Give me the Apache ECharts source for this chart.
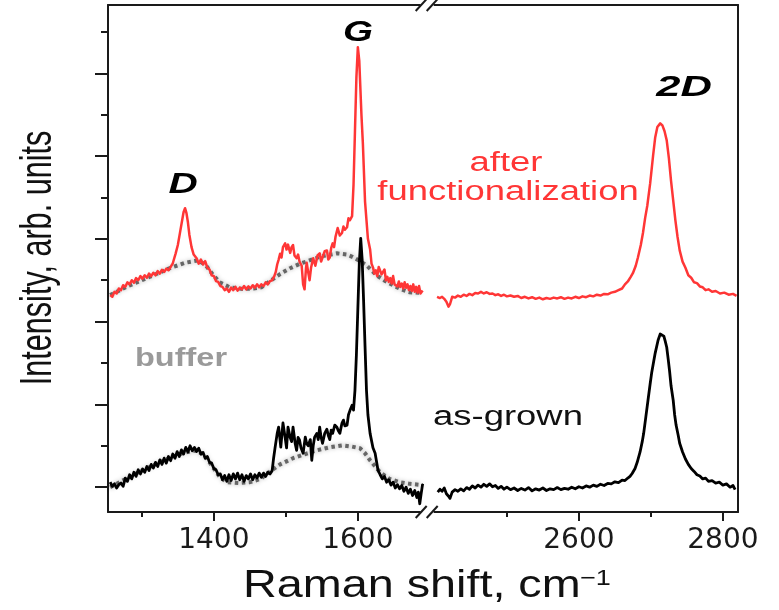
<!DOCTYPE html>
<html>
<head>
<meta charset="utf-8">
<script src="https://cdn.jsdelivr.net/npm/echarts@6/dist/echarts.min.js"></script>
<style>
html,body{margin:0;padding:0;background:#fff;}
#c{width:779px;height:610px;}
</style>
</head>
<body>
<div id="c"></div>
<script>
// ---- data (Raman shift in cm^-1, intensity in arb. units) ----
const redLeft = [[1256,4.64],[1259,4.6],[1262,4.72],[1265,4.68],[1268,4.8],[1271,4.76],[1274,4.88],[1277,4.84],[1280,4.95],[1283,4.9],[1286,5.0],[1289,4.94],[1292,5.05],[1295,5.0],[1298,5.1],[1301,5.04],[1304,5.12],[1307,5.06],[1310,5.16],[1313,5.1],[1316,5.18],[1319,5.12],[1322,5.22],[1325,5.16],[1328,5.25],[1331,5.2],[1334,5.28],[1337,5.24],[1340,5.32],[1343,5.41],[1347,5.65],[1350,5.85],[1353,6.15],[1356,6.45],[1358,6.65],[1360,6.74],[1362,6.62],[1364,6.4],[1366,6.1],[1369,5.8],[1372,5.62],[1376,5.53],[1379,5.4],[1382,5.5],[1385,5.38],[1388,5.46],[1391,5.3],[1394,5.26],[1397,5.12],[1400,5.1],[1403,4.98],[1406,4.96],[1409,4.86],[1412,4.84],[1415,4.76],[1418,4.8],[1421,4.72],[1424,4.82],[1427,4.76],[1430,4.84],[1433,4.75],[1436,4.82],[1439,4.78],[1442,4.86],[1445,4.78],[1448,4.85],[1451,4.8],[1454,4.88],[1457,4.82],[1460,4.9],[1463,4.83],[1466,4.9],[1469,4.86],[1472,4.95],[1475,4.9],[1478,4.98],[1481,5.0],[1484,5.1],[1486,5.2],[1488,5.38],[1490,5.5],[1492,5.64],[1494,5.55],[1496,5.8],[1499,5.89],[1501,5.74],[1503,5.86],[1506,5.66],[1508,5.8],[1510,5.85],[1512,5.6],[1515,5.53],[1517,5.62],[1519,5.45],[1522,5.35],[1524,4.9],[1526,4.78],[1528,5.3],[1529,5.42],[1531,5.2],[1533,5.0],[1535,5.3],[1538,5.53],[1541,5.35],[1544,5.6],[1547,5.65],[1549,5.45],[1551,5.48],[1554,5.7],[1557,5.72],[1559,5.5],[1561,5.55],[1563,5.78],[1565,5.89],[1567,5.8],[1569,6.05],[1572,6.26],[1575,6.08],[1578,6.14],[1580,6.3],[1582,6.22],[1585,6.28],[1587,6.5],[1589,6.45],[1592,6.55],[1594,7.3],[1596,8.6],[1598,9.9],[1600,10.63],[1602,10.3],[1605,9.0],[1607,8.3],[1610,6.9],[1614,6.0],[1617,5.75],[1619,5.4],[1621,5.31],[1623,5.16],[1625,5.24],[1627,5.1],[1629,5.32],[1631,5.36],[1633,5.14],[1635,5.1],[1637,5.26],[1639,5.0],[1641,5.08],[1643,4.96],[1645,5.05],[1647,4.92],[1649,5.1],[1651,4.9],[1653,4.94],[1655,4.85],[1657,4.97],[1659,4.84],[1661,4.92],[1663,4.8],[1665,4.95],[1667,4.82],[1669,4.9],[1671,4.76],[1673,4.86],[1675,4.74],[1677,4.9],[1679,4.72],[1681,4.84],[1683,4.7],[1685,4.86],[1687,4.68],[1690,4.75]];
const redRight = [[2403,4.6],[2407,4.57],[2410,4.6],[2413,4.55],[2416,4.48],[2419,4.36],[2421,4.42],[2424,4.6],[2428,4.58],[2432,4.63],[2436,4.6],[2440,4.65],[2444,4.62],[2448,4.67],[2452,4.64],[2456,4.69],[2460,4.68],[2464,4.72],[2468,4.68],[2472,4.71],[2476,4.67],[2480,4.68],[2484,4.64],[2488,4.66],[2492,4.62],[2496,4.65],[2500,4.61],[2505,4.63],[2510,4.6],[2515,4.62],[2520,4.57],[2525,4.6],[2530,4.56],[2535,4.59],[2540,4.55],[2545,4.58],[2550,4.54],[2555,4.57],[2560,4.55],[2565,4.58],[2570,4.56],[2575,4.59],[2580,4.55],[2585,4.58],[2590,4.56],[2595,4.6],[2600,4.57],[2605,4.61],[2610,4.59],[2615,4.63],[2620,4.61],[2625,4.65],[2630,4.63],[2635,4.67],[2640,4.66],[2645,4.7],[2650,4.72],[2655,4.76],[2660,4.8],[2664,4.9],[2668,4.97],[2672,5.08],[2675,5.17],[2679,5.35],[2682,5.55],[2686,5.85],[2689,6.14],[2692,6.5],[2695,6.8],[2699,7.34],[2703,8.0],[2706,8.45],[2709,8.7],[2713,8.79],[2716,8.74],[2719,8.6],[2722,8.38],[2725,7.95],[2728,7.4],[2731,6.93],[2734,6.45],[2737,6.05],[2740,5.72],[2744,5.45],[2748,5.3],[2752,5.12],[2756,5.06],[2760,4.95],[2764,4.93],[2768,4.85],[2772,4.83],[2776,4.76],[2780,4.78],[2785,4.72],[2790,4.74],[2796,4.68],[2802,4.7],[2808,4.65],[2814,4.67],[2819,4.62]];
const blackLeft = [[1256,0.12],[1259,0.02],[1262,0.08],[1265,-0.02],[1268,0.06],[1271,0.1],[1274,0.02],[1277,0.22],[1280,0.14],[1283,0.3],[1286,0.2],[1289,0.36],[1292,0.26],[1295,0.42],[1298,0.32],[1301,0.44],[1304,0.36],[1307,0.5],[1310,0.4],[1313,0.55],[1316,0.46],[1319,0.6],[1322,0.5],[1325,0.66],[1328,0.55],[1331,0.7],[1334,0.58],[1337,0.74],[1340,0.64],[1343,0.8],[1346,0.7],[1349,0.86],[1352,0.74],[1355,0.9],[1358,0.8],[1361,0.96],[1364,0.85],[1367,1.0],[1370,0.88],[1373,0.96],[1376,0.86],[1379,0.94],[1382,0.8],[1385,0.84],[1388,0.7],[1391,0.74],[1394,0.6],[1397,0.58],[1400,0.45],[1403,0.42],[1406,0.3],[1409,0.32],[1412,0.18],[1415,0.28],[1418,0.14],[1421,0.3],[1424,0.16],[1427,0.32],[1430,0.2],[1433,0.34],[1436,0.18],[1439,0.3],[1442,0.14],[1445,0.28],[1448,0.2],[1451,0.32],[1454,0.18],[1457,0.3],[1460,0.22],[1463,0.34],[1466,0.24],[1469,0.34],[1472,0.26],[1475,0.36],[1478,0.32],[1481,0.4],[1483,0.7],[1485,0.95],[1488,1.3],[1490,1.45],[1493,0.97],[1496,1.55],[1499,1.2],[1501,0.95],[1503,1.45],[1506,1.2],[1508,1.1],[1510,1.45],[1513,1.05],[1515,0.89],[1517,1.2],[1519,1.14],[1521,0.95],[1524,0.82],[1527,1.21],[1529,1.05],[1531,1.0],[1534,1.15],[1536,0.65],[1538,1.0],[1540,1.21],[1543,1.3],[1545,1.15],[1547,1.45],[1549,1.2],[1551,1.06],[1554,1.3],[1557,1.4],[1559,1.25],[1561,1.15],[1563,1.38],[1565,1.3],[1568,1.5],[1571,1.45],[1573,1.36],[1575,1.3],[1578,1.55],[1580,1.62],[1582,1.48],[1585,1.5],[1587,1.75],[1589,1.85],[1592,1.98],[1594,1.86],[1596,2.34],[1598,3.2],[1600,4.3],[1602,5.4],[1604,6.01],[1606,5.5],[1608,4.5],[1610,3.4],[1612,2.34],[1614,1.75],[1617,1.3],[1621,0.95],[1624,0.82],[1628,0.41],[1631,0.3],[1634,0.2],[1637,0.26],[1640,0.12],[1643,0.18],[1646,0.05],[1649,0.12],[1652,-0.02],[1655,0.06],[1658,-0.04],[1661,0.04],[1664,-0.1],[1667,0.0],[1670,-0.15],[1673,-0.05],[1676,-0.2],[1679,-0.08],[1682,-0.25],[1684,-0.12],[1686,-0.4],[1688,-0.15],[1690,0.08]];
const blackRight = [[2404,-0.12],[2407,-0.05],[2410,-0.1],[2413,-0.02],[2416,-0.16],[2419,-0.22],[2421,-0.27],[2424,-0.12],[2428,-0.06],[2432,-0.1],[2436,-0.04],[2440,-0.09],[2444,-0.01],[2448,-0.05],[2452,0.03],[2456,-0.02],[2460,0.05],[2464,0.0],[2468,0.07],[2472,0.02],[2476,0.08],[2480,0.01],[2484,0.04],[2488,-0.03],[2492,0.02],[2496,-0.05],[2500,0.0],[2505,-0.06],[2510,-0.02],[2515,-0.08],[2520,-0.03],[2525,-0.07],[2530,-0.01],[2535,-0.09],[2540,-0.04],[2545,-0.07],[2550,-0.02],[2555,-0.08],[2560,-0.04],[2565,-0.06],[2570,-0.01],[2575,-0.06],[2580,-0.03],[2585,-0.05],[2590,0.0],[2595,-0.04],[2600,0.01],[2605,-0.02],[2610,0.03],[2615,0.0],[2620,0.05],[2625,0.02],[2630,0.07],[2635,0.04],[2640,0.09],[2645,0.08],[2650,0.13],[2655,0.11],[2660,0.17],[2664,0.16],[2668,0.22],[2671,0.26],[2674,0.33],[2678,0.45],[2681,0.6],[2685,0.85],[2688,1.1],[2690,1.3],[2693,1.7],[2696,2.1],[2699,2.5],[2701,2.75],[2704,3.05],[2706,3.24],[2710,3.55],[2713,3.7],[2715,3.74],[2718,3.65],[2720,3.52],[2722,3.38],[2724,3.1],[2726,2.8],[2728,2.45],[2731,2.1],[2733,1.75],[2735,1.5],[2738,1.25],[2740,1.06],[2744,0.85],[2748,0.68],[2752,0.55],[2756,0.45],[2760,0.38],[2764,0.3],[2768,0.27],[2772,0.2],[2776,0.22],[2780,0.14],[2785,0.16],[2790,0.1],[2795,0.12],[2800,0.05],[2805,0.08],[2810,0.0],[2814,0.04],[2817,-0.06]];
const bufferUpper = [[1256,4.64],[1280,4.85],[1300,5.0],[1320,5.15],[1340,5.3],[1360,5.42],[1378,5.48],[1388,5.38],[1398,5.15],[1408,4.95],[1422,4.83],[1440,4.79],[1455,4.8],[1466,4.83],[1478,4.98],[1492,5.15],[1506,5.29],[1520,5.4],[1533,5.48],[1550,5.58],[1571,5.65],[1585,5.62],[1593,5.56],[1603,5.46],[1612,5.36],[1626,5.12],[1638,4.98],[1649,4.88],[1660,4.78],[1672,4.71],[1690,4.69]];
const bufferLower = [[1256,0.0],[1280,0.22],[1300,0.4],[1320,0.56],[1340,0.72],[1360,0.84],[1376,0.89],[1388,0.75],[1398,0.5],[1408,0.25],[1418,0.12],[1435,0.1],[1450,0.12],[1465,0.2],[1478,0.38],[1492,0.55],[1510,0.7],[1527,0.8],[1543,0.89],[1560,0.96],[1579,1.01],[1592,0.98],[1603,0.94],[1610,0.82],[1617,0.65],[1624,0.5],[1631,0.36],[1644,0.2],[1658,0.12],[1672,0.08],[1690,0.05]];

const xTickLabels = [1400, 1600, 2600, 2800];
const xMinorTicks = [1300, 1500, 2500, 2700];
const yMajorTicks = [0, 2, 4, 6, 8, 10];
const yMinorTicks = [1, 3, 5, 7, 9, 11];

// ---- broken x axis: the high-wavenumber segment is shifted left ----
const X_LEFT_MIN = 1253;
const X_RIGHT_MAX = 2821;
const BREAK_LEFT_END = 1697;   // last value of left segment
const BREAK_RIGHT_START = 2390; // first value of right segment
const SHIFT = BREAK_RIGHT_START - BREAK_LEFT_END;
const toAxis = v => (v >= BREAK_RIGHT_START - 50 ? v - SHIFT : v);
const fromAxis = u => (u > BREAK_LEFT_END ? u + SHIFT : u);
const mapSeries = arr => arr.map(p => [toAxis(p[0]), p[1]]);

const Y_MIN = -0.6, Y_MAX = 11.65;

const AX = '#1a1a1a';
const RED = '#ff3636';
const FONT = '"Liberation Sans", Arial, Helvetica, sans-serif';

const chart = echarts.init(document.getElementById('c'), null, {renderer: 'canvas'});

function lineSeries(name, data, color, width, extra) {
  return Object.assign({
    name, type: 'line', data: mapSeries(data), showSymbol: false, symbol: 'none',
    smooth: false, animation: false, silent: true,
    lineStyle: {color, width, join: 'round'}
  }, extra || {});
}
const bufferStyle = {color: '#666', width: 4, type: [3.5, 3.5], shadowBlur: 4, shadowColor: 'rgba(0,0,0,0.35)'};

const textEl = (id, text, x, y, font, fill, opts) => Object.assign({
  type: 'text', id, x, y, z: 100, silent: true,
  style: {text, font, fill, align: 'center', verticalAlign: 'middle', textAlign: 'center', textVerticalAlign: 'middle'}
}, opts || {});

const option = {
  animation: false,
  backgroundColor: '#fff',
  grid: {left: 108, right: 41, top: 5, bottom: 98, containLabel: false},
  xAxis: [
    {
      type: 'value', position: 'bottom', min: toAxis(X_LEFT_MIN), max: toAxis(X_RIGHT_MAX),
      axisLine: {show: true, onZero: false, lineStyle: {color: AX, width: 2}},
      axisTick: {show: true, inside: false, length: 9, customValues: xTickLabels.map(toAxis), lineStyle: {color: AX, width: 2}},
      axisLabel: {show: true, customValues: xTickLabels.map(toAxis), margin: 15,
        formatter: v => String(Math.round(fromAxis(v))),
        fontFamily: '"DejaVu Sans", sans-serif', fontSize: 28, color: AX},
      splitLine: {show: false}
    },
    {
      type: 'value', position: 'bottom', min: toAxis(X_LEFT_MIN), max: toAxis(X_RIGHT_MAX),
      axisLine: {show: false, onZero: false},
      axisTick: {show: true, inside: false, length: 5, customValues: xMinorTicks.map(toAxis), lineStyle: {color: AX, width: 2}},
      axisLabel: {show: false}, splitLine: {show: false}
    },
    {
      type: 'value', position: 'top', min: toAxis(X_LEFT_MIN), max: toAxis(X_RIGHT_MAX),
      axisLine: {show: true, onZero: false, lineStyle: {color: AX, width: 2}},
      axisTick: {show: false}, axisLabel: {show: false}, splitLine: {show: false}
    }
  ],
  yAxis: [
    {
      type: 'value', position: 'left', min: Y_MIN, max: Y_MAX,
      axisLine: {show: true, onZero: false, lineStyle: {color: AX, width: 2}},
      axisTick: {show: true, inside: false, length: 13, customValues: yMajorTicks, lineStyle: {color: AX, width: 2}},
      axisLabel: {show: false}, splitLine: {show: false}
    },
    {
      type: 'value', position: 'left', min: Y_MIN, max: Y_MAX,
      axisLine: {show: false, onZero: false},
      axisTick: {show: true, inside: false, length: 7, customValues: yMinorTicks, lineStyle: {color: AX, width: 2}},
      axisLabel: {show: false}, splitLine: {show: false}
    },
    {
      type: 'value', position: 'right', min: Y_MIN, max: Y_MAX,
      axisLine: {show: true, onZero: false, lineStyle: {color: AX, width: 2}},
      axisTick: {show: false}, axisLabel: {show: false}, splitLine: {show: false}
    }
  ],
  series: [
    lineSeries('buffer (upper)', bufferUpper, '#666', 4, {lineStyle: bufferStyle, z: 1}),
    lineSeries('buffer (lower)', bufferLower, '#666', 4, {lineStyle: bufferStyle, z: 1}),
    lineSeries('after functionalization', redLeft, RED, 2.5, {z: 3}),
    lineSeries('after functionalization ', redRight, RED, 2.5, {z: 3}),
    lineSeries('as-grown', blackLeft, '#000', 2.8, {z: 4}),
    lineSeries('as-grown ', blackRight, '#000', 2.8, {z: 4})
  ],
  graphic: {
    elements: [
      textEl('tG', 'G', 358, 33, 'bold italic 29px ' + FONT, '#000', {scaleX: 1.33}),
      textEl('tD', 'D', 183, 185, 'bold italic 30px ' + FONT, '#000', {scaleX: 1.35}),
      textEl('t2D', '2D', 684, 88, 'bold italic 29px ' + FONT, '#000', {scaleX: 1.5}),
      textEl('tAfter', 'after', 506, 164, '27px ' + FONT, RED, {scaleX: 1.35}),
      textEl('tFunc', 'functionalization', 508, 193, '27px ' + FONT, RED, {scaleX: 1.35}),
      textEl('tGrown', 'as-grown', 508, 418, '27px ' + FONT, '#111', {scaleX: 1.35}),
      textEl('tBuf', 'buffer', 181, 359, 'bold 25px ' + FONT, '#9a9a9a', {scaleX: 1.3}),
      {type: 'text', id: 'xTitle', x: 243, y: 587, z: 100, silent: true, scaleX: 1.23,
        style: {text: 'Raman shift, cm', font: '38px ' + FONT, fill: '#111', align: 'left', verticalAlign: 'middle', textAlign: 'left', textVerticalAlign: 'middle'}},
      {type: 'text', id: 'xTitleSup', x: 580, y: 579, z: 100, silent: true, scaleX: 1.23,
        style: {text: '\u22121', font: '22px ' + FONT, fill: '#111', align: 'left', verticalAlign: 'middle', textAlign: 'left', textVerticalAlign: 'middle'}},
      {type: 'text', id: 'yTitle', x: 39, y: 258, z: 100, silent: true, rotation: Math.PI / 2, scaleX: 0.85, scaleY: 1.25,
        style: {text: 'Intensity, arb. units', font: '36px ' + FONT, fill: '#111', align: 'center', verticalAlign: 'middle', textAlign: 'center', textVerticalAlign: 'middle'}}
    ]
  }
};
chart.setOption(option);

// axis-break marks ("//") on the bottom and top frame lines
const cx = chart.convertToPixel({xAxisIndex: 0}, BREAK_LEFT_END);
const yBottom = chart.convertToPixel({yAxisIndex: 0}, Y_MIN);
const yTop = chart.convertToPixel({yAxisIndex: 0}, Y_MAX);
const breakMarks = [];
[yBottom, yTop].forEach((yy, i) => {
  breakMarks.push({type: 'rect', id: 'gap' + i, z: 200, silent: true,
    shape: {x: cx - 7, y: yy - 3, width: 13, height: 6}, style: {fill: '#fff'}});
  breakMarks.push({type: 'line', id: 'sl1_' + i, z: 201, silent: true,
    shape: {x1: cx - 12, y1: yy + 6, x2: cx - 1, y2: yy - 6}, style: {stroke: AX, lineWidth: 2}});
  breakMarks.push({type: 'line', id: 'sl2_' + i, z: 201, silent: true,
    shape: {x1: cx - 1, y1: yy + 6, x2: cx + 10, y2: yy - 6}, style: {stroke: AX, lineWidth: 2}});
});
chart.setOption({graphic: {elements: breakMarks}});
</script>
</body>
</html>
